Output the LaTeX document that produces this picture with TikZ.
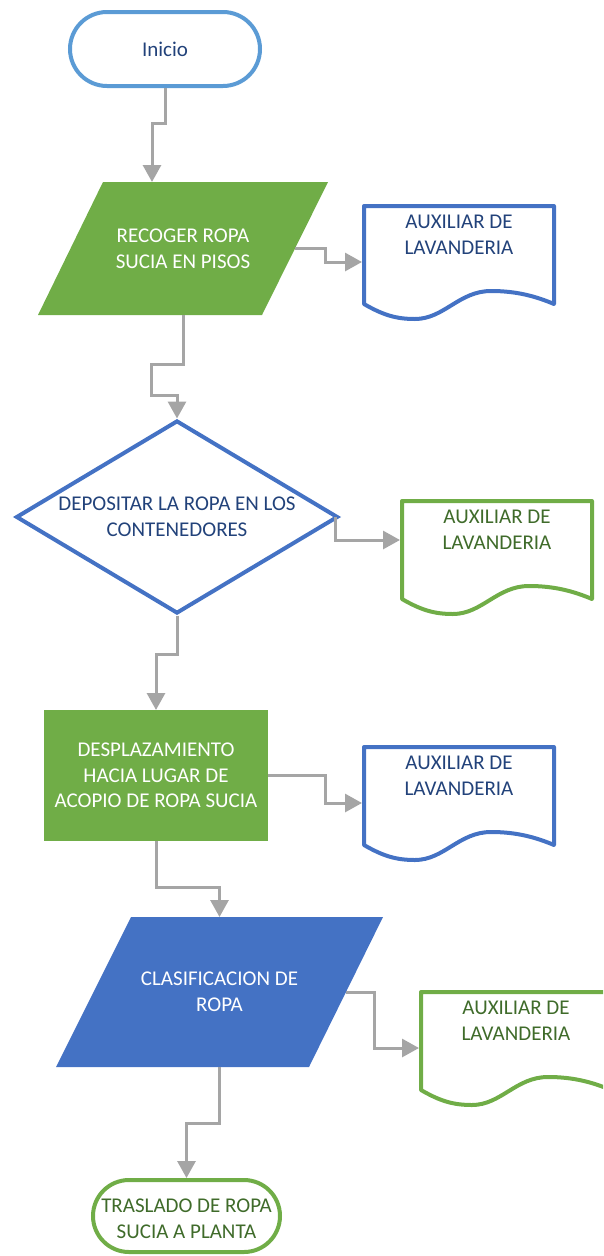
\documentclass[tikz,border=0pt]{standalone}
\usepackage{fontspec}
\setmainfont{Carlito}
\usetikzlibrary{shapes.geometric,arrows.meta,calc}
\definecolor{lblue}{HTML}{5B9BD5}
\definecolor{oblue}{HTML}{4472C4}
\definecolor{ogreen}{HTML}{70AD47}
\definecolor{connc}{HTML}{A5A5A5}
\definecolor{navy}{HTML}{22427A}
\definecolor{dgreen}{HTML}{3F6B2A}
\newcommand{\docoutline}[2]{%
  \begin{scope}[shift={(#1.north west)}]
    \draw[line width=4pt,draw=#2,line join=round] (0,98) -- (0,0) -- (190,0) -- (190,98)
      .. controls (171,90) and (152,85) .. (127,85)
      .. controls (95,85) and (80,113) .. (51,113)
      .. controls (32,113) and (19,109) .. cycle;
  \end{scope}}
\begin{document}
\begin{tikzpicture}[x=1pt,y=-1pt,
  every node/.style={font=\fontsize{21}{25.6}\selectfont, align=center},
  conn/.style={draw=connc, line width=3pt, -{Triangle[length=17pt,width=18pt]}},
  docbox/.style={minimum width=190pt, minimum height=112pt, inner sep=0pt, outer sep=0pt},
  shapebox/.style={inner sep=0pt, outer sep=0pt},
  term/.style={draw, line width=4pt, inner sep=0pt}]
\useasboundingbox (0,0) rectangle (603,1256);
\clip (0,0) rectangle (603,1256);

% start terminal
\node[term, draw=lblue, text=navy, rounded corners=37pt, minimum width=190pt, minimum height=74pt] (ini) at (165,49) {Inicio};

% parallelogram 1
\node[shapebox, minimum width=290pt, minimum height=133pt] (p1) at (183,248.5) {};
\fill[ogreen] ([xshift=65pt]p1.north west) -- (p1.north east) -- ([xshift=-66pt]p1.south east) -- (p1.south west) -- cycle;
\node[text=white] (p1t) at (p1.center) {RECOGER ROPA\\SUCIA EN PISOS};

% document 1
\node[docbox] (d1) at (459,262) {};
\docoutline{d1}{oblue}
\node[text=navy] (d1t) at ([yshift=-29pt]d1.north) {AUXILIAR DE\\LAVANDERIA};

% diamond
\node[diamond, draw=oblue, line width=4pt, minimum width=322pt, minimum height=193pt, inner sep=0pt] (dia) at (177,517) {};
\node[text=navy] (diat) at (dia.center) {DEPOSITAR LA ROPA EN LOS\\CONTENEDORES};

% document 2
\node[docbox] (d2) at (497,557) {};
\docoutline{d2}{ogreen}
\node[text=dgreen] (d2t) at ([yshift=-29pt]d2.north) {AUXILIAR DE\\LAVANDERIA};

% rectangle
\node[shapebox, fill=ogreen, text=white, minimum width=224pt, minimum height=131pt] (r1) at (156,775.5) {DESPLAZAMIENTO\\HACIA LUGAR DE\\ACOPIO DE ROPA SUCIA};

% document 3
\node[docbox] (d3) at (459,803) {};
\docoutline{d3}{oblue}
\node[text=navy] (d3t) at ([yshift=-29pt]d3.north) {AUXILIAR DE\\LAVANDERIA};

% parallelogram 2
\node[shapebox, minimum width=327pt, minimum height=150pt] (p2) at (219.5,992) {};
\fill[oblue] ([xshift=75pt]p2.north west) -- (p2.north east) -- ([xshift=-74pt]p2.south east) -- (p2.south west) -- cycle;
\node[text=white] (p2t) at (p2.center) {CLASIFICACION DE\\ROPA};

% document 4
\node[docbox] (d4) at (516,1048) {};
\docoutline{d4}{ogreen}
\node[text=dgreen] (d4t) at ([yshift=-29pt]d4.north) {AUXILIAR DE\\LAVANDERIA};

% end terminal
\node[term, draw=ogreen, rounded corners=36pt, minimum width=187pt, minimum height=72pt] (fin) at (186.5,1216) {};
\node[text=dgreen] (fint) at ([yshift=-3pt]fin.center) {TRASLADO DE ROPA\\SUCIA A PLANTA};

% connectors
\draw[conn] (ini.south) -- ++(0,35) -| ([xshift=-31pt]p1.north);
\draw[conn, shorten >=2pt] ([xshift=-33pt]p1.east) -- ++(30,0) |- (d1.west);
\draw[conn] (p1.south) -- ++(0,49) -- ++(-32,0) -- ++(0,31) -| (dia.north);
\draw[conn, shorten >=2pt] ([xshift=-5pt]dia.east) |- ([yshift=-39pt]d2.north west);
\draw[conn] (dia.south) -- ++(0,39) -| (r1.north);
\draw[conn, shorten >=2pt] (r1.east) -- ++(57,0) |- (d3.west);
\draw[conn] (r1.south) -- ++(0,46) -| (p2.north);
\draw[conn, shorten >=2pt] ([xshift=-37pt]p2.east) -- ++(28,0) |- (d4.west);
\draw[conn] (p2.south) -- ++(0,56) -| (fin.north);
\end{tikzpicture}
\end{document}
